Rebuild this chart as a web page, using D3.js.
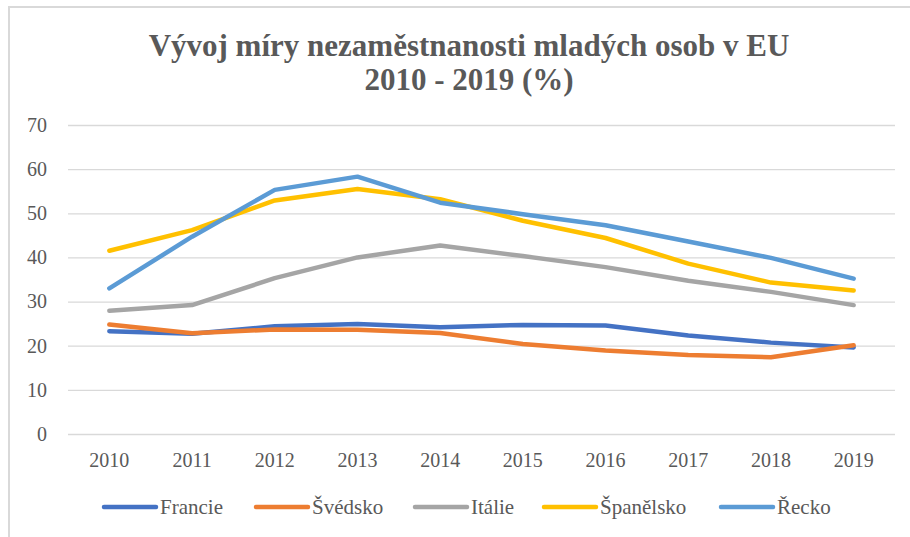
<!DOCTYPE html>
<html>
<head>
<meta charset="utf-8">
<script src="https://cdn.jsdelivr.net/npm/d3@7"></script>
<style>
  body { margin: 0; background: #fff; }
  svg { display: block; }
  .tick text { font-family: "Liberation Serif", "Times New Roman", serif; fill: #595959; }
</style>
</head>
<body>
<svg id="chart" width="910" height="537"></svg>
<script>
var years = ['2010', '2011', '2012', '2013', '2014', '2015', '2016', '2017', '2018', '2019'];
var seriesNames = ['Francie', 'Švédsko', 'Itálie', 'Španělsko', 'Řecko'];
var francie = [23.3, 22.7, 24.4, 24.9, 24.2, 24.7, 24.6, 22.3, 20.7, 19.6];
var svedsko = [24.8, 22.8, 23.7, 23.6, 22.9, 20.4, 18.9, 17.9, 17.4, 20.1];
var italie = [27.9, 29.2, 35.3, 40.0, 42.7, 40.3, 37.8, 34.7, 32.2, 29.2];
var spanelsko = [41.5, 46.2, 52.9, 55.5, 53.2, 48.3, 44.4, 38.6, 34.3, 32.5];
var recko = [33.0, 44.7, 55.3, 58.3, 52.4, 49.8, 47.3, 43.6, 39.9, 35.2];
var yTicks = [0, 10, 20, 30, 40, 50, 60, 70];

(function() {
  'use strict';

  var colors = ['#4472C4', '#ED7D31', '#A5A5A5', '#FFC000', '#5B9BD5'];
  var series = [francie, svedsko, italie, spanelsko, recko].map(function(values, i) {
    return { name: seriesNames[i], values: values, color: colors[i] };
  });

  var svg = d3.select('#chart');
  var serif = '"Liberation Serif", "Times New Roman", serif';

  // frame edges (only top and left show in the screenshot)
  svg.append('line').attr('x1', 8).attr('x2', 910).attr('y1', 7).attr('y2', 7)
    .attr('stroke', '#d9d9d9').attr('stroke-width', 2);
  svg.append('line').attr('x1', 9).attr('x2', 9).attr('y1', 7).attr('y2', 537)
    .attr('stroke', '#d9d9d9').attr('stroke-width', 2);

  // title
  var title = svg.append('text')
    .attr('text-anchor', 'middle')
    .attr('font-family', serif)
    .attr('font-weight', 'bold')
    .attr('font-size', 31)
    .attr('fill', '#595959');
  title.append('tspan').attr('x', 469).attr('y', 56).text('Vývoj míry nezaměstnanosti mladých osob v EU');
  title.append('tspan').attr('x', 469).attr('y', 90).text('2010 - 2019 (%)');

  var plotLeft = 68, plotRight = 895, plotTop = 125, plotBottom = 434;

  var x = d3.scaleBand().domain(years).range([plotLeft, plotRight]);
  var y = d3.scaleLinear().domain([0, 70]).range([plotBottom, plotTop]);

  // gridlines + y labels
  var yAxis = svg.append('g')
    .attr('transform', 'translate(' + plotLeft + ',0)')
    .call(d3.axisLeft(y).tickValues(yTicks).tickSize(-(plotRight - plotLeft)).tickPadding(21));
  yAxis.select('.domain').remove();
  yAxis.selectAll('.tick line').attr('stroke', '#d9d9d9').attr('stroke-width', 1.3);
  yAxis.selectAll('.tick text').attr('font-size', 20);

  // x labels
  var xAxis = svg.append('g')
    .attr('transform', 'translate(0,' + plotBottom + ')')
    .call(d3.axisBottom(x).tickSize(0).tickPadding(19));
  xAxis.select('.domain').remove();
  xAxis.selectAll('.tick text').attr('font-size', 20);

  var line = d3.line()
    .x(function(d, i) { return x(years[i]) + x.bandwidth() / 2; })
    .y(function(d) { return y(d); });

  svg.append('g').selectAll('path')
    .data(series)
    .join('path')
    .attr('d', function(d) { return line(d.values); })
    .attr('fill', 'none')
    .attr('stroke', function(d) { return d.color; })
    .attr('stroke-width', 4.5)
    .attr('stroke-linejoin', 'round')
    .attr('stroke-linecap', 'round');

  // legend
  var legendX = [104, 256, 415, 544, 721];
  var legend = svg.append('g').selectAll('g')
    .data(series)
    .join('g')
    .attr('transform', function(d, i) { return 'translate(' + legendX[i] + ',507)'; });
  legend.append('line')
    .attr('x1', 0).attr('x2', 52).attr('y1', 0).attr('y2', 0)
    .attr('stroke', function(d) { return d.color; })
    .attr('stroke-width', 4.5)
    .attr('stroke-linecap', 'round');
  legend.append('text')
    .attr('x', 56)
    .attr('y', 7)
    .attr('font-family', serif)
    .attr('font-size', 21)
    .attr('fill', '#595959')
    .text(function(d) { return d.name; });
})();
</script>
</body>
</html>
